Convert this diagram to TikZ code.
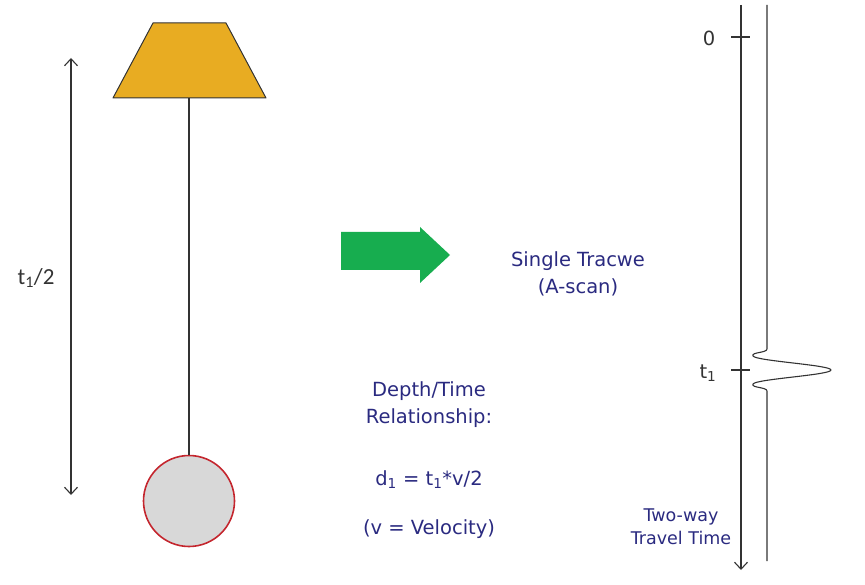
\documentclass[tikz,border=0pt]{standalone}
\usepackage{fontspec}
\setmainfont{DejaVu Sans}
\newfontfamily\calib{Carlito}
\usetikzlibrary{arrows.meta}
\definecolor{navy}{HTML}{2A2A80}
\definecolor{gold}{HTML}{E8AC22}
\definecolor{ballred}{HTML}{C4262E}
\definecolor{ballgray}{HTML}{D8D8D8}
\definecolor{arrgreen}{HTML}{17AD4F}
\definecolor{ink}{HTML}{333333}
\tikzset{
  line/.style={draw=ink, line width=1.1pt},
  barb/.style={-{Straight Barb[length=7pt,width=13pt,line width=1.1pt]}},
  bluetext/.style={text=navy, font=\fontsize{19.5}{27}\selectfont, align=center, inner sep=0pt},
  smallblue/.style={text=navy, font=\fontsize{17.5}{23}\selectfont, align=center, inner sep=0pt},
  label/.style={text=ink, font=\fontsize{19.5}{24}\selectfont, inner sep=0pt},
}
\begin{document}
\begin{tikzpicture}[x=1pt,y=-1pt]
\useasboundingbox (0,0) rectangle (865,585);
% transmitter (trapezoid)
\draw[fill=gold, draw=ink, line width=1pt, line join=round] (153,23) -- (226,23) -- (266,98) -- (113,98) -- cycle;
\coordinate (trapb) at (189,98);
% target ball
\node[circle, minimum size=91pt, inner sep=0pt, fill=ballgray, draw=ballred, line width=1.6pt] (ball) at (189,501) {};
\draw[line] (trapb) -- (ball.north);
% t1/2 double arrow
\coordinate (dtop) at (71,58);
\coordinate (dbot) at (71,495);
\draw[line, {Straight Barb[length=7pt,width=13pt,line width=1.1pt]}-{Straight Barb[length=7pt,width=13pt,line width=1.1pt]}] (dtop) -- (dbot);
\node[text=ink, font=\calib\fontsize{23}{26}\selectfont, inner sep=0pt] (half) at (36,278) {t\textsubscript{1}/2};
% green arrow
\fill[arrgreen] (341,232) -- (420,232) -- (420,227) -- (450,255) -- (420,283) -- (420,270) -- (341,270) -- cycle;
% texts
\node[bluetext] (single) at (578,274) {Single Tracwe\\(A-scan)};
\node[bluetext] (depth) at (429,405) {Depth/Time\\Relationship:};
\node[bluetext] (eq) at (429,480) {d\textsubscript{1} = t\textsubscript{1}*v/2};
\node[bluetext] (vel) at (429,529) {(v = Velocity)};
\node[smallblue] (twoway) at (681,527) {Two-way\\Travel Time};
% time axis
\coordinate (atop) at (741,5);
\coordinate (abot) at (741,570);
\draw[line, barb] (atop) -- (abot);
\coordinate (z0) at (741,37);
\coordinate (zt) at (741,370);
\draw[line] ([xshift=-10pt]z0) -- ([xshift=9pt]z0);
\draw[line] ([xshift=-10pt]zt) -- ([xshift=9pt]zt);
\node[label] (lab0) at (709,38) {0};
\node[label] (labt) at (708,373) {t\textsubscript{1}};
% trace
\coordinate (ttop) at (767,5);
\coordinate (tbot) at (767,561);
\draw[line, line join=round] (ttop) -- (767,349)
  .. controls (767,353) and (751,352) .. (753,356)
  .. controls (756,361) and (831,365) .. (831,370)
  .. controls (831,375) and (756,379) .. (753,384)
  .. controls (751,388) and (767,387) .. (767,391)
  -- (tbot);
\end{tikzpicture}
\end{document}
